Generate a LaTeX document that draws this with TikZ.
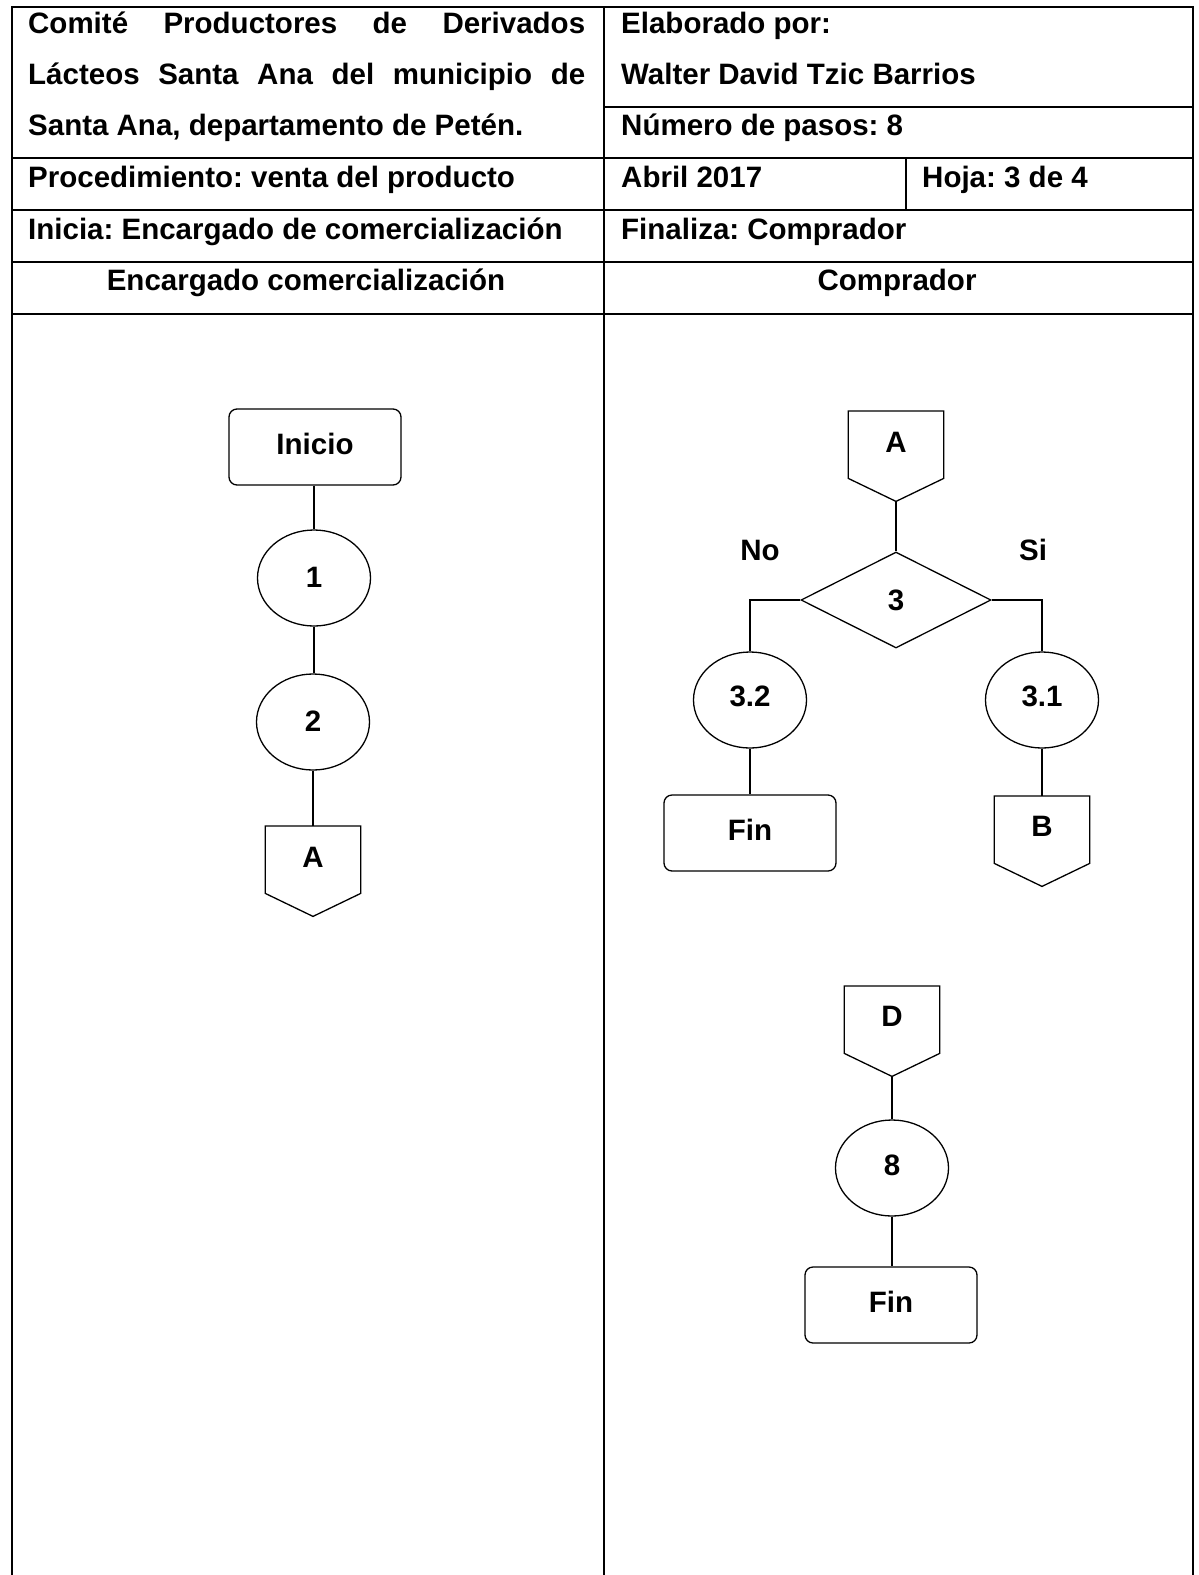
\documentclass[tikz,border=0pt]{standalone}
\usepackage{fontspec}
\setmainfont{Liberation Sans}
\usetikzlibrary{shapes.geometric}

% off-page connector: name, centre x, top y, label
\newcommand{\offpage}[4]{%
  \node[conbox, anchor=north] (#1) at (#2,#3) {#4};
  \draw[shapeline] (#1.south east) -- (#1.north east) -- (#1.north west)
    -- (#1.south west) -- ([yshift=-23pt]#1.south) -- cycle;
  \coordinate (#1-tip) at ([yshift=-23pt]#1.south);
}

\begin{document}
\frenchspacing
\begin{tikzpicture}[x=1pt,y=-1pt,
  font=\fontsize{29.5}{33}\selectfont\bfseries,
  gridline/.style={line width=1.6pt},
  shapeline/.style={line width=1.3pt},
  link/.style={line width=1.3pt},
  txt/.style={anchor=base west, inner sep=0},
  proc/.style={shapeline, draw, ellipse, minimum width=113pt, minimum height=96pt, inner sep=0pt},
  term/.style={shapeline, draw, rounded corners=8pt, minimum width=172pt, minimum height=76pt, inner sep=0pt},
  decision/.style={shapeline, draw, diamond, minimum width=190pt, minimum height=96pt, inner sep=0pt},
  conbox/.style={minimum width=95pt, minimum height=67pt, inner sep=0pt}
]
\useasboundingbox (0,0) rectangle (1199,1575);
\fill[white] (0,0) rectangle (1199,1575);

% ---------- form frame ----------
\draw[gridline] (12,1575) -- (12,7) -- (1193,7) -- (1193,1575);
\draw[gridline] (604,7) -- (604,1575);
\draw[gridline] (604,107) -- (1193,107);
\draw[gridline] (12,158) -- (1193,158);
\draw[gridline] (12,210) -- (1193,210);
\draw[gridline] (12,262) -- (1193,262);
\draw[gridline] (12,314) -- (1193,314);
\draw[gridline] (906,158) -- (906,210);

% ---------- header texts ----------
\node[txt] (t1) at (28,33) {\makebox[557pt][s]{Comité Productores de Derivados}};
\node[txt] (t2) at (28,84) {\makebox[557pt][s]{Lácteos Santa Ana del municipio de}};
\node[txt] (t3) at (28,135) {Santa Ana, departamento de Petén.};
\node[txt] (t4) at (28,187) {Procedimiento: venta del producto};
\node[txt] (t5) at (28,239) {Inicia: Encargado de comercialización};
\node[anchor=base, inner sep=0] (h1) at (306,290) {Encargado comercialización};

\node[txt] (r1) at (621,33) {Elaborado por:};
\node[txt] (r2) at (621,84) {Walter David Tzic Barrios};
\node[txt] (r3) at (621,135) {Número de pasos: 8};
\node[txt] (r4) at (621,187) {Abril 2017};
\node[txt] (r5) at (922,187) {Hoja: 3 de 4};
\node[txt] (r6) at (621,239) {Finaliza: Comprador};
\node[anchor=base, inner sep=0] (h2) at (897,290) {Comprador};

% ---------- Encargado comercialización lane ----------
\node[term] (inicio) at (315,447) {\raisebox{7pt}{Inicio}};
\node[proc] (p1) at (314,578) {\raisebox{2pt}{1}};
\node[proc] (p2) at (313,722) {\raisebox{2pt}{2}};
\offpage{outA}{313}{826}{\raisebox{5pt}{A}}
\draw[link] (inicio.south -| p1.north) -- (p1.north);
\draw[link] (p1.south) -- (p2.north -| p1.south);
\draw[link] (p2.south) -- (outA.north);

% ---------- Comprador lane ----------
\offpage{inA}{896}{411}{\raisebox{5pt}{A}}
\node[decision] (d3) at (896,600) {3};
\node[anchor=base, inner sep=0] (no) at (760,560) {No};
\node[anchor=base, inner sep=0] (si) at (1033,560) {Si};
\node[proc] (p32) at (750,700) {\raisebox{8pt}{3.2}};
\node[proc] (p31) at (1042,700) {\raisebox{8pt}{3.1}};
\node[term] (fin1) at (750,833) {\raisebox{6pt}{Fin}};
\offpage{outB}{1042}{796}{\raisebox{6pt}{B}}
\draw[link] (inA-tip) -- (d3.north);
\draw[link] (d3.west) -| (p32.north);
\draw[link] (d3.east) -| (p31.north);
\draw[link] (p32.south) -- (fin1.north);
\draw[link] (p31.south) -- (outB.north);

\offpage{inD}{892}{986}{\raisebox{7pt}{D}}
\node[proc] (p8) at (892,1168) {\raisebox{5pt}{8}};
\node[term] (fin2) at (891,1305) {\raisebox{6pt}{Fin}};
\draw[link] (inD-tip) -- (p8.north);
\draw[link] (p8.south) -- (fin2.north -| p8.south);
\end{tikzpicture}
\end{document}
